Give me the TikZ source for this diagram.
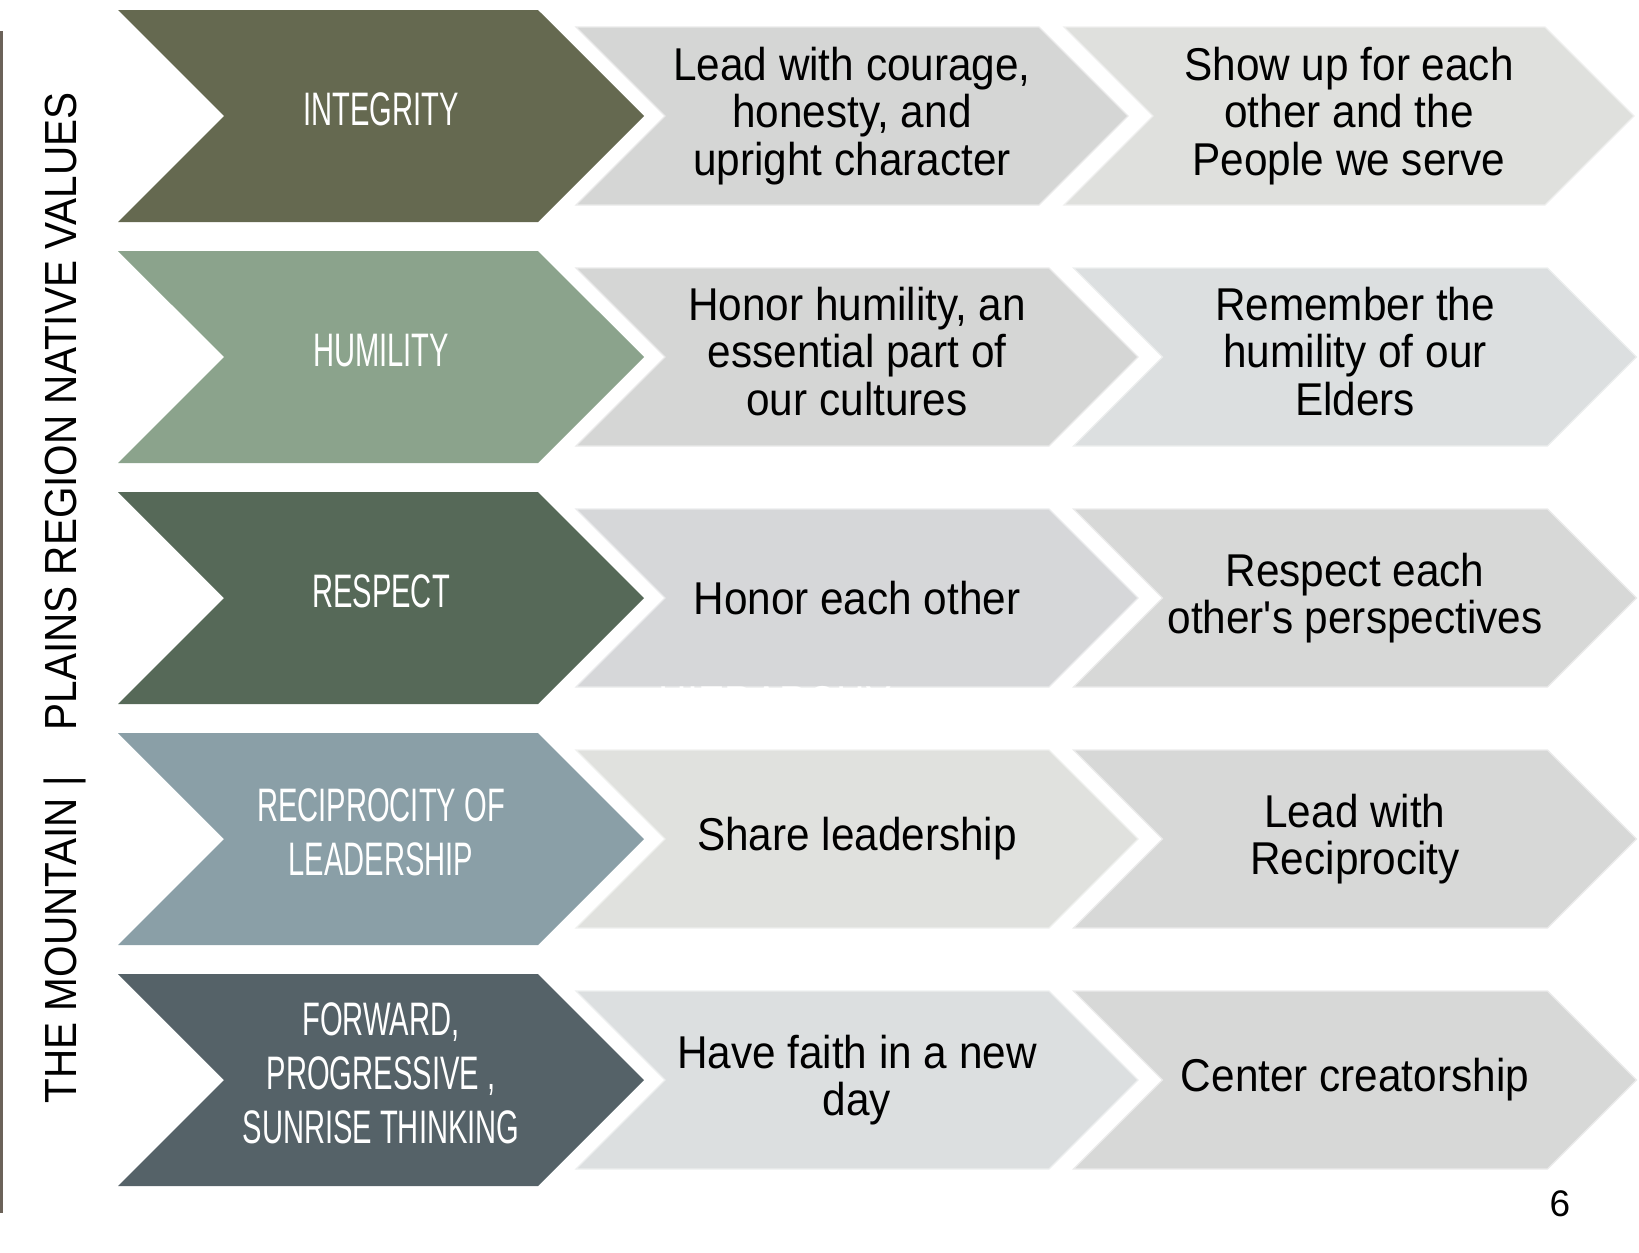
\documentclass[tikz,border=0pt]{standalone}
\usepackage{fontspec}
\setmainfont{Liberation Sans}
\newfontfamily\phrasefont[FakeStretch=0.92]{Liberation Sans}
\newfontfamily\valuefont[FakeStretch=0.62]{Liberation Sans}
\newfontfamily\narrowfont[FakeStretch=0.86]{Liberation Sans}
\newfontfamily\sidefont[FakeStretch=0.9]{Liberation Sans}
\usepackage{tikz}
\usetikzlibrary{shapes.symbols}
\definecolor{integritycol}{HTML}{656950}
\definecolor{humilitycol}{HTML}{8BA38C}
\definecolor{respectcol}{HTML}{566958}
\definecolor{reciprocitycol}{HTML}{8A9FA7}
\definecolor{forwardcol}{HTML}{556268}
\definecolor{greyA}{HTML}{D5D6D5}
\definecolor{greyB}{HTML}{DFE0DD}
\definecolor{greyC}{HTML}{DCDFE0}
\definecolor{greyD}{HTML}{D6D7D9}
\definecolor{greyE}{HTML}{E0E1DE}
\definecolor{greyF}{HTML}{D7D8D7}
\definecolor{sideline}{HTML}{6B6259}
\tikzstyle{chevron}=[signal, signal to=east, signal from=west, signal pointer angle=90, inner sep=0pt, align=center]
\tikzstyle{valuebox}=[chevron, minimum width=526pt, minimum height=212pt, text=white, text depth=14pt, font=\valuefont\fontsize{47}{54}\selectfont]
\tikzstyle{phrasebox}=[chevron, minimum height=178pt, line width=1.2pt, font=\phrasefont\fontsize{46}{47.5}\selectfont]
\tikzstyle{side title}=[rotate=90, anchor=base, font=\sidefont\fontsize{45}{45}\selectfont]

\begin{document}
\begin{tikzpicture}[x=1pt, y=-1pt]
        \useasboundingbox (0,0) rectangle (1639,1253);

        % Titolo laterale
        \draw[sideline, line width=2.5pt] (1.5,31) -- (1.5,1213);
        \node[side title] (side_title) at (76,598) {THE MOUNTAIN |\hspace{46pt}PLAINS REGION NATIVE VALUES};

        % Integrity
        \node[valuebox, fill=integritycol] (integrity) at (381,116) {INTEGRITY};
        \node[phrasebox, fill=greyA, draw=greyA!50!white, minimum width=552pt] (integrity_how) at (852,116) {Lead with courage,\\honesty, and\\upright character};
        \node[phrasebox, fill=greyB, draw=greyB!50!white, minimum width=570pt] (integrity_why) at (1349,116) {Show up for each\\other and the\\People we serve};

        % Humility
        \node[valuebox, fill=humilitycol] (humility) at (381,357) {HUMILITY};
        \node[phrasebox, fill=greyA, draw=greyA!50!white, minimum width=562pt, text depth=12pt] (humility_how) at (857,357) {Honor humility, an\\essential part of\\our cultures};
        \node[phrasebox, fill=greyC, draw=greyC!50!white, minimum width=563pt, text depth=12pt] (humility_why) at (1355,357) {Remember the\\humility of our\\Elders};

        % Respect
        \node[valuebox, fill=respectcol] (respect) at (381,598) {RESPECT};
        \node[phrasebox, fill=greyD, draw=greyD!50!white, minimum width=562pt] (respect_how) at (857,598) {Honor each other};
        \node[phrasebox, fill=greyF, draw=greyF!50!white, minimum width=563pt] (respect_why) at (1355,598) {Respect each\\other's perspectives};

        % Reciprocity of leadership
        \node[valuebox, fill=reciprocitycol] (reciprocity) at (381,839) {RECIPROCITY OF\\LEADERSHIP};
        \node[phrasebox, fill=greyE, draw=greyE!50!white, minimum width=562pt] (reciprocity_how) at (857,839) {Share leadership};
        \node[phrasebox, fill=greyF, draw=greyF!50!white, minimum width=563pt] (reciprocity_why) at (1355,839) {Lead with\\Reciprocity};

        % Forward thinking
        \node[valuebox, fill=forwardcol] (forward) at (381,1080) {FORWARD,\\PROGRESSIVE ,\\SUNRISE THINKING};
        \node[phrasebox, fill=greyC, draw=greyC!50!white, minimum width=562pt] (forward_how) at (857,1080) {Have faith in a new\\day};
        \node[phrasebox, fill=greyF, draw=greyF!50!white, minimum width=563pt] (forward_why) at (1355,1080) {Center creatorship};

        % Testo nascosto e numero di pagina
        \node[text=white, font=\narrowfont\fontsize{46}{46}\selectfont] (hidden_word) at (775,703) {HIERARCHY};
        \node[font=\fontsize{37}{37}\selectfont] (page_num) at (1560,1204) {6};
\end{tikzpicture}
\end{document}
